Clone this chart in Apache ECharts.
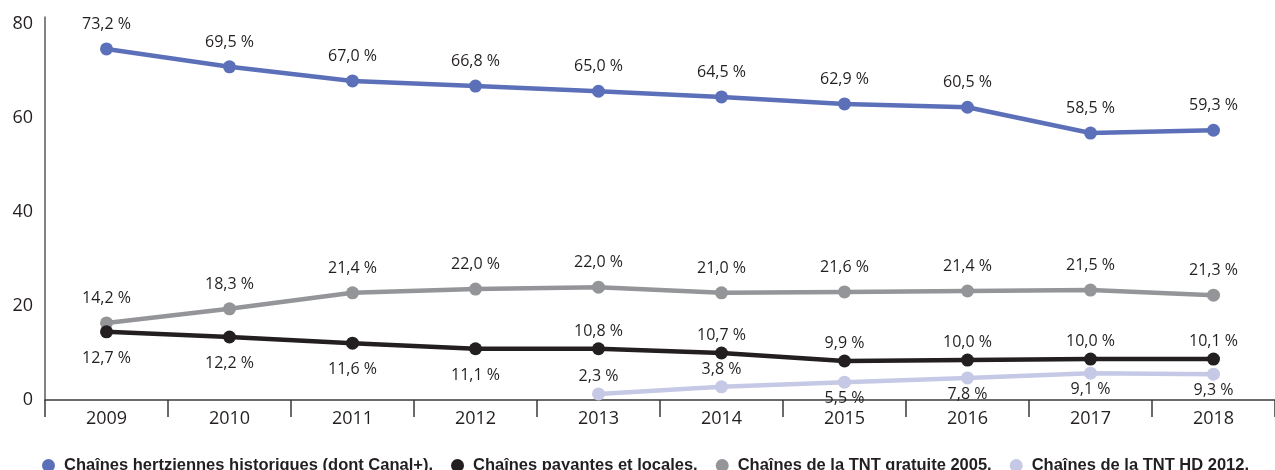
<!DOCTYPE html>
<html>
<head>
<meta charset="utf-8">
<script src="https://cdn.jsdelivr.net/npm/echarts@6/dist/echarts.min.js"></script>
<style>html,body{margin:0;padding:0;background:#fff}#c{width:1275px;height:470px}</style>
</head>
<body>
<div id="c"></div>
<script>
// ---- data ----
const years = ['2009','2010','2011','2012','2013','2014','2015','2016','2017','2018'];
const seriesNames = [
  'Chaînes hertziennes historiques (dont Canal+)',
  'Chaînes payantes et locales',
  'Chaînes de la TNT gratuite 2005',
  'Chaînes de la TNT HD 2012'
];
// plotted positions (as drawn in the picture)
const historiques = [74.7, 70.9, 67.9, 66.8, 65.7, 64.5, 63.0, 62.3, 56.8, 57.4];
const payantes    = [14.5, 13.4, 12.1, 10.9, 10.9, 10.0, 8.3, 8.5, 8.7, 8.7];
const tnt2005     = [16.4, 19.4, 22.8, 23.6, 24.0, 22.8, 23.0, 23.2, 23.4, 22.3];
const tntHD       = [null, null, null, null, 1.3, 2.8, 3.8, 4.7, 5.7, 5.5];
// printed value labels
const historiquesLabels = ['73,2 %','69,5 %','67,0 %','66,8 %','65,0 %','64,5 %','62,9 %','60,5 %','58,5 %','59,3 %'];
const payantesLabels    = ['12,7 %','12,2 %','11,6 %','11,1 %','10,8 %','10,7 %','9,9 %','10,0 %','10,0 %','10,1 %'];
const tnt2005Labels     = ['14,2 %','18,3 %','21,4 %','22,0 %','22,0 %','21,0 %','21,6 %','21,4 %','21,5 %','21,3 %'];
const tntHDLabels       = ['','','','','2,3 %','3,8 %','5,5 %','7,8 %','9,1 %','9,3 %'];
const yTicks = [0, 20, 40, 60, 80];

// ---- styles (not data) ----
const colors = ['#5b70b9', '#231f20', '#949598', '#c6c9e6'];
const payantesPlacement = ['bottom','bottom','bottom','bottom','top','top','top','top','top','top'];
const tntHDPlacement    = ['','','','','top','top','bottom','bottom','bottom','bottom'];
const labelFont = { fontFamily: "'Open Sans', sans-serif", fontSize: 16, color: '#231f20' };

function build(values, labels, placement, distTop, distBottom) {
  return values.map((v, i) => {
    if (v === null) return null;
    const pos = placement ? placement[i] : 'top';
    return {
      value: v,
      label: Object.assign({
        show: true, position: pos,
        distance: pos === 'top' ? distTop : distBottom,
        formatter: labels[i]
      }, labelFont)
    };
  });
}

const chart = echarts.init(document.getElementById('c'), null, { renderer: 'canvas' });
const lineSeries = (idx, data) => ({
  name: seriesNames[idx], type: 'line', data: data,
  symbol: 'circle', symbolSize: 13,
  lineStyle: { width: 4.5, color: colors[idx] },
  itemStyle: { color: colors[idx] },
  connectNulls: false, animation: false, z: 10 - idx
});

chart.setOption({
  animation: false,
  color: colors,
  grid: { left: 45, right: -9, top: 17, bottom: 70, containLabel: false },
  legend: {
    left: 37, top: 452,
    icon: 'circle', itemWidth: 13, itemHeight: 13, itemGap: 18,
    formatter: n => n + '.',
    textStyle: { fontFamily: "'Liberation Sans', Arial, sans-serif", fontWeight: 'bold', fontSize: 16.5, color: '#231f20', padding: [0,0,0,4] },
    data: seriesNames
  },
  xAxis: {
    type: 'category', data: years, boundaryGap: true,
    axisLine: { lineStyle: { color: '#3a3a3a', width: 1.5 } },
    axisTick: { show: true, length: 17, lineStyle: { color: '#3a3a3a', width: 1.5 } },
    axisLabel: { margin: 10, fontFamily: "'Open Sans', sans-serif", fontSize: 18, color: '#231f20' }
  },
  yAxis: {
    type: 'value', min: 0, max: 81.5, interval: 20,
    axisLine: { show: true, lineStyle: { color: '#5a5a5a', width: 1.5 } },
    axisTick: { show: false },
    splitLine: { show: false },
    axisLabel: {
      margin: 12, showMaxLabel: false, fontFamily: "'Open Sans', sans-serif", fontSize: 18, color: '#231f20',
      formatter: v => (yTicks.indexOf(v) >= 0 ? String(v) : '')
    }
  },
  series: [
    lineSeries(0, build(historiques, historiquesLabels, null, 10, 10)),
    lineSeries(1, build(payantes, payantesLabels, payantesPlacement, 3, 12)),
    lineSeries(2, build(tnt2005, tnt2005Labels, null, 10, 10)),
    lineSeries(3, build(tntHD, tntHDLabels, tntHDPlacement, 3, 2))
  ]
});
</script>
</body>
</html>
